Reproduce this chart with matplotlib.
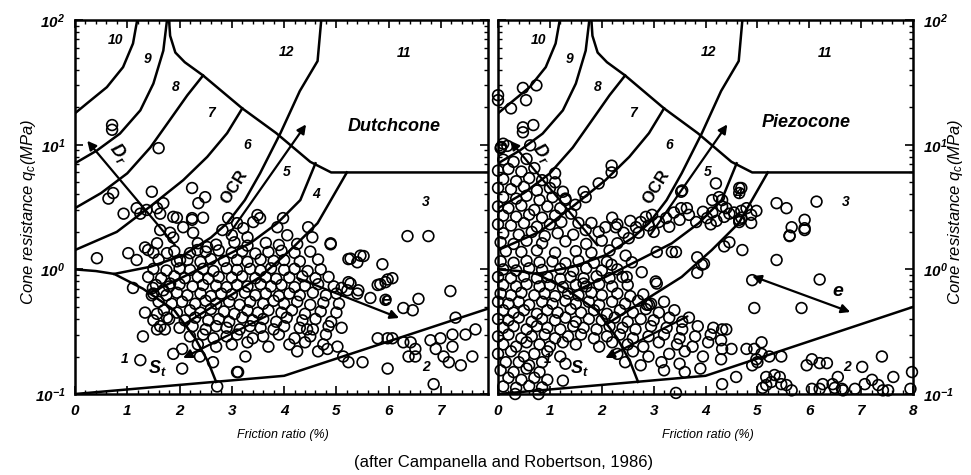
import matplotlib.pyplot as plt
from matplotlib.ticker import MultipleLocator, LogLocator, NullFormatter

plt.rcParams["font.family"] = ["Liberation Sans", "DejaVu Sans"]
plt.rcParams["mathtext.fontset"] = "custom"
plt.rcParams["mathtext.rm"] = "Liberation Sans:bold:italic"
plt.rcParams["mathtext.it"] = "Liberation Sans:italic"
plt.rcParams["mathtext.bf"] = "Liberation Sans:bold:italic"

# ---- zone boundaries (friction ratio %, cone resistance MPa) ----
zone2_rf = [0.0, 4.0, 8.0]
zone2_qc = [0.10, 0.14, 0.50]
zone1_rf = [0.0, 0.4, 0.75, 1.3, 1.9, 2.3, 2.55, 2.7]
zone1_qc = [1.0, 0.97, 0.92, 0.70, 0.47, 0.28, 0.18, 0.125]
b10_rf = [0.0, 0.23, 0.61, 0.92, 1.11, 1.19]
b10_qc = [17.9, 21.5, 29.0, 42.0, 65.0, 100.0]
b9_rf = [0.0, 0.42, 0.86, 1.25, 1.5, 1.69, 1.76]
b9_qc = [7.1, 9.0, 12.3, 18.9, 31.0, 57.0, 100.0]
b8_rf = [0.0, 0.5, 1.0, 1.44, 1.8, 2.15, 2.45]
b8_qc = [3.1, 4.1, 5.9, 9.5, 15.5, 25.0, 36.0]
b7_rf = [0.0, 0.8, 1.44, 2.07, 2.53, 2.91, 3.2]
b7_qc = [1.43, 2.0, 3.2, 5.2, 8.0, 12.4, 19.6]
b6_rf = [0.75, 1.44, 2.07, 2.6, 2.91, 3.25, 3.54, 3.93, 4.3, 4.64, 4.71]
b6_qc = [0.92, 1.05, 1.3, 1.8, 2.35, 3.6, 5.9, 12.4, 27.0, 47.0, 100.0]
b5_rf = [1.4, 2.07, 2.72, 3.35, 3.87, 4.31, 4.6]
b5_qc = [0.64, 0.87, 1.19, 1.62, 2.35, 3.6, 7.1]
b4_rf = [2.1, 2.72, 3.54, 4.12, 4.64, 5.2]
b4_qc = [0.365, 0.53, 0.87, 1.43, 2.35, 6.0]
top_rf = [1.8, 1.82, 1.92, 2.1, 2.45, 3.2, 3.85, 4.5, 4.9, 8.0]
top_qc = [100.0, 75.0, 55.0, 46.0, 36.0, 19.6, 12.4, 7.3, 6.0, 6.0]

zone_labels = ["1", "2", "3", "4", "5", "6", "7", "8", "9", "10", "11", "12"]
label_rf = [0.96, 6.72, 6.7, 4.62, 4.05, 3.3, 2.6, 1.93, 1.38, 0.78, 6.3, 4.05]
label_qc = [0.19, 0.165, 3.5, 4.0, 6.0, 10.0, 18.0, 29.0, 49.0, 69.0, 55.0, 56.0]

# ---- measured points, Dutch cone ----
dutch_sparse = [
    (0.71, 14.4), (0.71, 13.2), (1.6, 9.4), (0.64, 3.7), (0.73, 4.1), (1.47, 4.2),
    (2.24, 4.5), (2.49, 3.8), (2.36, 3.4), (0.93, 2.8), (1.18, 3.1), (1.37, 3.0),
    (1.25, 2.8), (1.69, 3.4), (1.63, 2.8), (1.57, 3.1), (1.95, 2.6), (2.24, 2.5),
    (2.45, 2.6), (1.63, 2.07), (1.88, 1.8), (0.42, 1.23), (1.02, 1.35), (1.18, 1.19),
    (1.34, 1.5), (1.4, 1.43), (1.11, 0.71), (1.49, 0.71), (1.69, 0.68), (1.47, 0.62),
    (1.82, 0.77), (1.34, 0.45), (1.5, 0.39), (1.63, 0.35), (1.72, 0.33), (1.57, 0.33),
    (1.3, 0.29), (1.76, 0.41), (1.57, 0.44), (1.88, 0.21), (2.05, 0.23), (2.05, 0.16),
    (1.25, 0.187), (2.72, 0.115), (2.39, 0.2), (2.64, 0.18), (3.1, 0.15),
    (3.49, 2.73), (3.54, 2.58), (3.41, 2.4), (3.98, 2.58), (4.06, 1.88), (3.87, 2.18),
    (4.46, 2.18), (4.54, 1.81), (4.89, 1.62), (5.27, 1.22), (5.46, 1.29), (5.88, 1.1),
    (5.98, 0.83), (5.84, 0.76), (5.27, 0.77), (5.21, 0.68), (5.4, 0.64), (2.93, 2.58),
    (3.1, 2.35), (3.22, 2.14), (2.82, 2.07), (3.0, 1.88), (3.3, 1.81), (1.88, 2.64),
    (2.24, 2.58), (2.07, 2.18), (1.82, 1.97), (2.26, 1.97), (1.57, 1.62), (1.76, 1.35),
    (2.01, 1.19), (2.34, 1.43), (2.53, 1.51), (6.36, 1.85), (6.76, 1.85), (4.89, 1.59),
    (5.23, 1.21), (5.4, 1.14), (5.52, 1.28), (5.23, 0.79), (5.42, 0.68), (5.79, 0.75),
    (5.94, 0.79), (6.07, 0.85), (5.65, 0.59), (5.94, 0.57), (6.28, 0.49), (6.46, 0.47),
    (6.57, 0.58), (7.18, 0.67), (7.28, 0.41), (5.79, 0.28), (5.98, 0.28), (6.07, 0.28),
    (6.28, 0.26), (6.42, 0.26), (6.51, 0.23), (6.38, 0.2), (6.51, 0.2), (5.98, 0.16),
    (6.8, 0.27), (6.9, 0.23), (6.99, 0.28), (7.05, 0.2), (7.15, 0.18), (7.22, 0.24),
    (7.22, 0.3), (7.38, 0.17), (7.47, 0.3), (7.66, 0.33), (7.6, 0.2), (6.86, 0.12),
    (5.23, 0.18), (5.5, 0.18), (5.13, 0.2), (3.12, 0.15), (3.26, 0.2), (4.25, 0.22),
    (4.65, 0.22), (4.83, 0.23), (5.02, 0.24), (4.44, 0.33),
]
dutch_dense = [
    (2.35, 1.62), (2.7, 1.58), (3.05, 1.65), (3.3, 1.55), (3.65, 1.63), (3.9, 1.57), (4.25, 1.6),
    (1.5, 1.36), (1.9, 1.4), (2.2, 1.35), (2.5, 1.39), (2.75, 1.42), (3.0, 1.36), (3.2, 1.4),
    (3.45, 1.34), (3.7, 1.38), (3.95, 1.41), (4.2, 1.36), (4.5, 1.39),
    (1.6, 1.2), (1.95, 1.16), (2.15, 1.19), (2.4, 1.15), (2.6, 1.21), (2.85, 1.17), (3.1, 1.19),
    (3.3, 1.15), (3.55, 1.2), (3.8, 1.17), (4.0, 1.19), (4.3, 1.16), (4.65, 1.2),
    (1.5, 1.01), (1.75, 0.98), (2.0, 1.02), (2.2, 0.99), (2.45, 1.01), (2.65, 0.97), (2.9, 1.02),
    (3.1, 0.99), (3.35, 1.01), (3.55, 0.98), (3.75, 1.02), (4.0, 0.99), (4.2, 1.01), (4.45, 0.97),
    (4.7, 1.0),
    (1.4, 0.87), (1.65, 0.85), (1.9, 0.88), (2.1, 0.85), (2.35, 0.87), (2.55, 0.84), (2.75, 0.87),
    (3.0, 0.86), (3.2, 0.88), (3.45, 0.85), (3.65, 0.87), (3.85, 0.84), (4.1, 0.86), (4.35, 0.88),
    (4.6, 0.85), (4.85, 0.87),
    (1.55, 0.75), (1.8, 0.73), (2.0, 0.76), (2.25, 0.73), (2.45, 0.75), (2.7, 0.74), (2.9, 0.72),
    (3.1, 0.75), (3.3, 0.73), (3.55, 0.76), (3.75, 0.73), (3.95, 0.75), (4.2, 0.72), (4.4, 0.74),
    (4.65, 0.76), (4.95, 0.73), (5.1, 0.71),
    (1.5, 0.64), (1.75, 0.62), (1.95, 0.65), (2.15, 0.62), (2.4, 0.64), (2.6, 0.61), (2.8, 0.64),
    (3.0, 0.63), (3.25, 0.65), (3.45, 0.62), (3.65, 0.64), (3.9, 0.61), (4.1, 0.64), (4.3, 0.62),
    (4.55, 0.65), (4.8, 0.62), (5.0, 0.64),
    (1.6, 0.55), (1.85, 0.53), (2.05, 0.55), (2.3, 0.53), (2.5, 0.56), (2.7, 0.53), (2.95, 0.55),
    (3.15, 0.52), (3.35, 0.55), (3.6, 0.53), (3.8, 0.56), (4.0, 0.53), (4.25, 0.55), (4.5, 0.52),
    (4.75, 0.54), (5.05, 0.53),
    (1.7, 0.47), (1.95, 0.45), (2.2, 0.47), (2.4, 0.45), (2.6, 0.48), (2.85, 0.46), (3.05, 0.44),
    (3.3, 0.47), (3.5, 0.45), (3.7, 0.47), (3.95, 0.45), (4.15, 0.47), (4.4, 0.44), (4.7, 0.46),
    (5.0, 0.45),
    (1.8, 0.4), (2.1, 0.39), (2.3, 0.41), (2.55, 0.39), (2.75, 0.4), (2.95, 0.38), (3.2, 0.41),
    (3.4, 0.39), (3.6, 0.4), (3.85, 0.38), (4.05, 0.41), (4.35, 0.39), (4.6, 0.4), (4.9, 0.38),
    (2.0, 0.34), (2.25, 0.35), (2.5, 0.33), (2.7, 0.35), (2.9, 0.34), (3.15, 0.33), (3.35, 0.35),
    (3.55, 0.34), (3.8, 0.33), (4.0, 0.35), (4.3, 0.34), (4.55, 0.33), (4.85, 0.35), (5.1, 0.34),
    (2.2, 0.29), (2.45, 0.3), (2.65, 0.28), (2.9, 0.29), (3.1, 0.3), (3.4, 0.28), (3.6, 0.29),
    (3.9, 0.3), (4.2, 0.28), (4.5, 0.29), (4.8, 0.3),
    (2.35, 0.25), (2.7, 0.24), (3.0, 0.25), (3.3, 0.26), (3.7, 0.24), (4.1, 0.25), (4.4, 0.26),
    (4.75, 0.25),
]

# ---- measured points, piezocone ----
piezo_sparse = [
    (0.0, 25.0), (0.0, 22.8), (0.25, 19.6), (0.48, 28.6), (0.54, 22.8), (0.74, 30.0),
    (0.48, 13.8), (0.68, 14.4), (0.48, 12.6), (0.62, 9.9), (0.06, 9.6), (0.1, 10.2),
    (1.1, 5.9), (2.19, 6.8), (2.19, 6.0), (1.94, 4.9), (1.65, 4.2), (1.69, 3.8),
    (4.2, 4.9), (3.53, 4.2), (4.26, 3.8), (4.13, 3.6), (3.55, 4.3), (4.65, 4.5),
    (4.69, 4.5), (4.65, 4.1), (4.32, 3.6), (4.4, 3.1), (4.55, 2.86), (4.69, 2.95),
    (4.65, 2.5), (4.88, 2.74), (4.98, 2.95), (4.88, 2.36), (5.37, 3.4), (5.56, 3.1),
    (6.14, 3.5), (5.91, 2.5), (5.66, 2.18), (5.91, 2.14), (5.62, 1.87), (5.37, 1.19),
    (4.69, 2.6), (4.71, 1.43), (4.36, 1.53), (4.46, 1.65), (3.84, 1.25), (3.93, 1.09),
    (3.84, 0.94), (3.35, 1.38), (3.43, 1.38), (3.06, 1.38), (2.46, 1.29), (2.58, 1.14),
    (3.04, 0.8), (2.48, 0.87), (2.19, 1.09), (2.77, 0.95), (3.97, 1.11), (3.68, 0.41),
    (2.91, 0.52), (4.32, 0.33), (5.62, 1.85), (5.91, 2.07), (4.9, 0.82), (6.2, 0.83),
    (4.94, 0.49), (5.85, 0.49), (5.08, 0.26), (1.65, 0.77), (2.87, 0.52), (3.06, 0.77),
]
piezo_zone2 = [
    (4.4, 0.33), (4.3, 0.27), (4.32, 0.23), (4.3, 0.19), (4.5, 0.23), (4.32, 0.12),
    (4.59, 0.137), (4.79, 0.23), (4.94, 0.23), (5.08, 0.21), (4.98, 0.19), (4.9, 0.17),
    (5.0, 0.18), (5.23, 0.2), (5.46, 0.2), (5.17, 0.137), (5.27, 0.125), (5.33, 0.142),
    (5.43, 0.137), (5.46, 0.12), (5.56, 0.118), (5.66, 0.107), (5.17, 0.118), (5.1, 0.112),
    (5.95, 0.17), (6.05, 0.19), (6.2, 0.177), (6.34, 0.177), (6.05, 0.11), (6.2, 0.11),
    (6.26, 0.12), (6.45, 0.12), (6.55, 0.137), (6.63, 0.11), (6.49, 0.112), (6.65, 0.107),
    (7.02, 0.165), (6.88, 0.11), (7.07, 0.12), (7.21, 0.13), (7.33, 0.118), (7.42, 0.107),
    (7.52, 0.107), (7.62, 0.137), (7.4, 0.2), (7.98, 0.15), (7.95, 0.11), (0.33, 0.1),
    (0.78, 0.1), (3.43, 0.102),
]
piezo_band = [
    (1.3, 3.6), (1.49, 3.3), (1.41, 2.8), (1.22, 2.4), (1.55, 2.36), (1.8, 2.36), (1.69, 2.07),
    (1.94, 2.0), (2.07, 2.18), (2.27, 2.18), (2.42, 1.97), (2.66, 2.18), (2.75, 2.4), (2.71, 1.97),
    (2.52, 1.78), (2.85, 2.64), (2.97, 2.74), (3.1, 2.4), (3.24, 2.58), (3.39, 2.86), (3.53, 3.1),
    (3.64, 3.1), (3.68, 2.74), (3.82, 2.4), (4.03, 2.58), (4.13, 2.86), (4.21, 2.45), (4.36, 2.64),
    (4.46, 2.8), (4.65, 2.4), (4.79, 3.1), (4.32, 3.2), (2.3, 2.3), (2.55, 2.45), (2.9, 2.25),
    (3.3, 2.2), (3.5, 2.5), (3.95, 2.9), (4.1, 2.3), (3.0, 2.0), (2.2, 2.6),
]
piezo_upper = [
    (0.05, 9.4), (0.18, 9.8), (0.1, 7.6), (0.3, 7.3), (0.55, 7.7),
    (0.0, 6.2), (0.2, 6.4), (0.45, 6.1), (0.7, 6.5),
    (0.1, 5.3), (0.35, 5.1), (0.6, 5.4), (0.85, 5.2), (1.1, 5.0),
    (0.0, 4.5), (0.25, 4.4), (0.5, 4.6), (0.75, 4.3), (1.0, 4.5), (1.25, 4.2),
    (0.1, 3.8), (0.35, 3.7), (0.55, 3.9), (0.8, 3.6), (1.05, 3.8), (1.3, 3.7),
    (0.0, 3.2), (0.2, 3.1), (0.45, 3.25), (0.7, 3.0), (0.95, 3.2), (1.2, 3.1),
    (0.1, 2.7), (0.35, 2.65), (0.6, 2.75), (0.85, 2.6), (1.1, 2.7),
    (0.0, 2.3), (0.25, 2.25), (0.5, 2.35), (0.75, 2.2), (1.0, 2.3),
    (0.1, 1.95), (0.4, 1.9), (0.65, 2.0), (0.9, 1.85), (1.15, 1.95), (1.45, 1.9),
    (0.05, 1.65), (0.3, 1.6), (0.55, 1.7), (0.85, 1.62), (1.3, 1.68), (1.7, 1.6), (2.0, 1.7),
    (2.3, 1.62), (0.15, 1.4), (0.45, 1.38), (0.75, 1.42), (1.1, 1.36), (1.5, 1.4), (1.8, 1.36),
    (2.15, 1.42),
]
piezo_dense = [
    (0.05, 1.16), (0.3, 1.13), (0.55, 1.17), (0.8, 1.14), (1.05, 1.16), (1.3, 1.12), (1.55, 1.17),
    (1.85, 1.13), (2.1, 1.15),
    (0.1, 1.0), (0.35, 0.98), (0.6, 1.02), (0.85, 0.99), (1.2, 1.01), (1.45, 0.97), (1.7, 1.02),
    (2.0, 0.98), (2.3, 1.0),
    (0.0, 0.87), (0.25, 0.85), (0.5, 0.88), (0.75, 0.85), (0.95, 0.87), (1.2, 0.84), (1.4, 0.87),
    (1.65, 0.85), (1.9, 0.88), (2.15, 0.85), (2.4, 0.87),
    (0.1, 0.75), (0.35, 0.73), (0.55, 0.76), (0.8, 0.73), (1.0, 0.75), (1.25, 0.72), (1.5, 0.75),
    (1.7, 0.73), (1.95, 0.76), (2.2, 0.73), (2.5, 0.75),
    (0.05, 0.64), (0.25, 0.62), (0.45, 0.65), (0.7, 0.62), (0.9, 0.64), (1.1, 0.61), (1.35, 0.64),
    (1.55, 0.62), (1.8, 0.65), (2.0, 0.62), (2.3, 0.64), (2.55, 0.61), (2.8, 0.63),
    (0.0, 0.55), (0.2, 0.53), (0.4, 0.55), (0.6, 0.52), (0.85, 0.55), (1.05, 0.53), (1.3, 0.56),
    (1.5, 0.53), (1.75, 0.55), (1.95, 0.52), (2.2, 0.55), (2.45, 0.53), (2.7, 0.56), (2.95, 0.53),
    (3.2, 0.55),
    (0.1, 0.47), (0.3, 0.45), (0.5, 0.47), (0.75, 0.44), (0.95, 0.47), (1.15, 0.45), (1.4, 0.48),
    (1.6, 0.45), (1.85, 0.47), (2.1, 0.44), (2.35, 0.47), (2.6, 0.45), (2.85, 0.48), (3.1, 0.45),
    (3.4, 0.47),
    (0.0, 0.4), (0.2, 0.39), (0.4, 0.41), (0.65, 0.38), (0.85, 0.4), (1.1, 0.39), (1.3, 0.41),
    (1.5, 0.38), (1.75, 0.4), (2.0, 0.39), (2.25, 0.41), (2.5, 0.38), (2.75, 0.4), (3.0, 0.39),
    (3.3, 0.41), (3.55, 0.38),
    (0.1, 0.34), (0.3, 0.35), (0.55, 0.33), (0.75, 0.35), (0.95, 0.34), (1.2, 0.33), (1.45, 0.35),
    (1.65, 0.34), (1.9, 0.33), (2.15, 0.35), (2.4, 0.34), (2.65, 0.33), (2.95, 0.35), (3.25, 0.34),
    (3.55, 0.33), (3.85, 0.35), (4.15, 0.34),
    (0.0, 0.29), (0.2, 0.3), (0.45, 0.28), (0.65, 0.29), (0.9, 0.3), (1.1, 0.28), (1.35, 0.29),
    (1.6, 0.3), (1.85, 0.28), (2.1, 0.29), (2.35, 0.3), (2.6, 0.28), (2.9, 0.29), (3.2, 0.3),
    (3.5, 0.28), (3.8, 0.29), (4.1, 0.3),
    (0.1, 0.25), (0.35, 0.24), (0.55, 0.26), (0.8, 0.25), (1.0, 0.24), (1.25, 0.26), (1.5, 0.25),
    (1.95, 0.24), (2.2, 0.26), (2.5, 0.25), (2.8, 0.24), (3.1, 0.26), (3.45, 0.25), (3.75, 0.24),
    (4.05, 0.26),
    (0.0, 0.21), (0.25, 0.22), (0.5, 0.2), (0.7, 0.21), (0.95, 0.22), (1.2, 0.2), (2.3, 0.21),
    (2.6, 0.22), (2.9, 0.2), (3.3, 0.21), (3.6, 0.22), (3.95, 0.2),
    (0.15, 0.18), (0.4, 0.18), (0.6, 0.17), (0.85, 0.18), (1.3, 0.175), (2.45, 0.18), (2.75, 0.17),
    (3.15, 0.18), (3.5, 0.175),
    (0.05, 0.155), (0.3, 0.15), (0.55, 0.16), (0.8, 0.15), (3.2, 0.155), (3.6, 0.15), (3.9, 0.16),
    (0.2, 0.135), (0.45, 0.13), (0.7, 0.135), (0.95, 0.13), (1.25, 0.128),
    (0.1, 0.115), (0.35, 0.112), (0.6, 0.116), (0.85, 0.113),
]

dutch_pts = dutch_sparse + dutch_dense
piezo_pts = piezo_sparse + piezo_zone2 + piezo_band + piezo_upper + piezo_dense

fig = plt.figure(figsize=(9.71, 4.75), dpi=100)
ax1 = fig.add_axes([0.0772, 0.1705, 0.4254, 0.787])
ax2 = fig.add_axes([0.5129, 0.1705, 0.4274, 0.787])


def draw_panel(ax, pts, xmax, name, name_xy):
    ax.set_yscale("log")
    ax.set_xlim(0, xmax)
    ax.set_ylim(0.1, 100)

    rf = [p[0] for p in pts]
    qc = [p[1] for p in pts]
    ax.scatter(rf, qc, s=60, facecolors="none", edgecolors="black",
               linewidths=1.2, zorder=2, clip_on=False)

    for bx, by in [(zone2_rf, zone2_qc), (zone1_rf, zone1_qc), (b10_rf, b10_qc),
                   (b9_rf, b9_qc), (b8_rf, b8_qc), (b7_rf, b7_qc), (b6_rf, b6_qc),
                   (b5_rf, b5_qc), (b4_rf, b4_qc), (top_rf, top_qc)]:
        ax.plot(bx, by, color="black", lw=1.8, zorder=3)

    for t, x, y in zip(zone_labels, label_rf, label_qc):
        ax.text(x, y, t, fontsize=10, fontweight="bold", style="italic",
                ha="center", va="center", zorder=4)

    ax.text(name_xy[0], name_xy[1], name, fontsize=13, fontweight="bold",
            style="italic", ha="center", va="center", zorder=4)

    arrow = dict(arrowstyle="-|>", color="black", lw=1.6, mutation_scale=13)
    # Dr, OCR and St arrows
    ax.annotate("", xy=(0.2, 11.2), xytext=(1.95, 1.5), arrowprops=arrow, zorder=4)
    ax.text(0.85, 8.6, r"$\mathrm{D_r}$", fontsize=13, rotation=-53,
            ha="center", va="center", zorder=4)
    ax.annotate("", xy=(4.45, 15.2), xytext=(2.9, 1.8), arrowprops=arrow, zorder=4)
    ax.text(3.05, 4.6, "OCR", fontsize=12, fontweight="bold", rotation=58,
            ha="center", va="center", zorder=4)
    ax.annotate("", xy=(2.02, 0.19), xytext=(3.7, 0.43), arrowprops=arrow, zorder=4)
    ax.text(1.57, 0.163, r"$\mathrm{S_t}$", fontsize=13, ha="center",
            va="center", zorder=4)

    ax.tick_params(axis="both", which="major", direction="in", length=6, width=1.2,
                   top=True, right=True, labelsize=11, pad=7)
    ax.tick_params(axis="both", which="minor", direction="in", length=3, width=1.0,
                   top=True, right=True)
    ax.xaxis.set_major_locator(MultipleLocator(1))
    ax.xaxis.set_minor_locator(MultipleLocator(0.2))
    ax.yaxis.set_major_locator(LogLocator(base=10, numticks=10))
    ax.yaxis.set_minor_locator(LogLocator(base=10, subs=range(2, 10), numticks=10))
    ax.yaxis.set_minor_formatter(NullFormatter())
    ax.set_yticks([0.1, 1, 10, 100])
    ax.set_yticklabels([r"$\mathrm{10^{-1}}$", r"$\mathrm{10^{0}}$",
                        r"$\mathrm{10^{1}}$", r"$\mathrm{10^{2}}$"])
    ticks = list(range(0, int(xmax) + 1))
    ax.set_xticks(ticks)
    ax.set_xticklabels([str(t) for t in ticks], fontweight="bold", style="italic")
    for spine in ax.spines.values():
        spine.set_linewidth(1.8)
        spine.set_color("black")


draw_panel(ax1, dutch_pts, 7.9, "Dutchcone", (6.1, 14.0))
ax1.annotate("", xy=(6.25, 0.4), xytext=(4.2, 0.87),
             arrowprops=dict(arrowstyle="-|>", color="black", lw=1.6, mutation_scale=13),
             zorder=4)
ax1.text(5.95, 0.56, "e", fontsize=14, fontweight="bold", style="italic",
         ha="center", va="center", zorder=4)

draw_panel(ax2, piezo_pts, 8.0, "Piezocone", (5.95, 15.0))
ax2.annotate("", xy=(6.84, 0.447), xytext=(4.85, 0.9),
             arrowprops=dict(arrowstyle="<|-|>", color="black", lw=1.6, mutation_scale=13),
             zorder=4)
ax2.text(6.55, 0.66, "e", fontsize=14, fontweight="bold", style="italic",
         ha="center", va="center", zorder=4)
ax2.tick_params(axis="y", which="both", labelleft=False, labelright=True)

ylab = "Cone resistance $q_c$(MPa)"
fig.text(28 / 971, 0.555, ylab, rotation=90, fontsize=12, style="italic",
         ha="center", va="center")
fig.text(955 / 971, 0.555, ylab, rotation=90, fontsize=12, style="italic",
         ha="center", va="center")
fig.text(283 / 971, 0.084, "Friction ratio (%)", fontsize=9, style="italic",
         ha="center", va="center")
fig.text(708 / 971, 0.084, "Friction ratio (%)", fontsize=9, style="italic",
         ha="center", va="center")
fig.text(504 / 971, 0.027, "(after Campanella and Robertson, 1986)", fontsize=12,
         ha="center", va="center")

fig.savefig("out.png", dpi=100)
